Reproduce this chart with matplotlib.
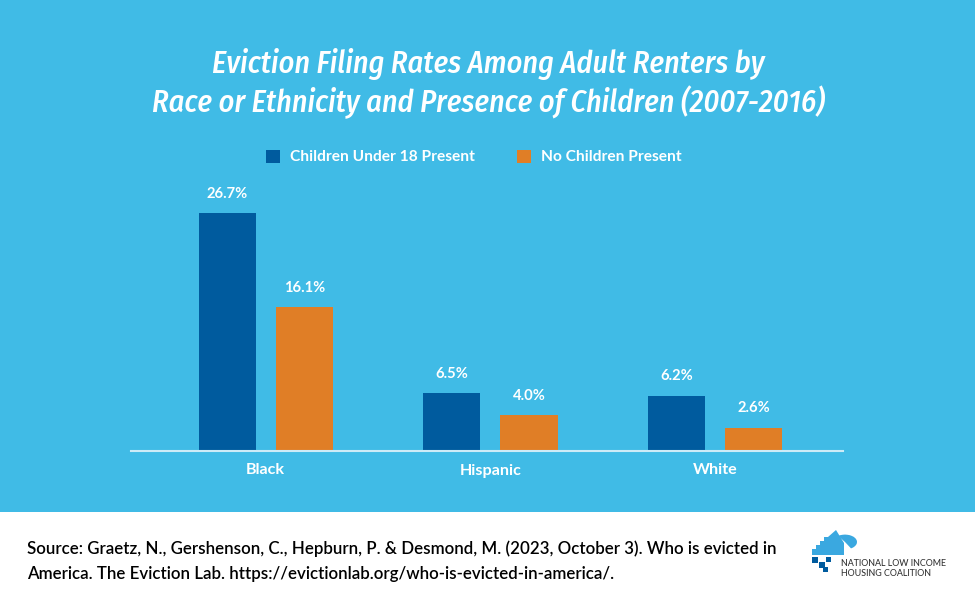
import numpy as np
import matplotlib
matplotlib.use("Agg")
import matplotlib.pyplot as plt
from matplotlib.patches import Rectangle, Polygon, Wedge

# data
groups = ["Black", "Hispanic", "White"]
children = [26.7, 6.5, 6.2]
no_children = [16.1, 4.0, 2.6]
series_names = ["Children Under 18 Present", "No Children Present"]

bg_blue = "#40BBE6"
dark_blue = "#005B9E"
orange = "#E07E26"

W, H = 975, 600


def fx(px):
    return px / W


def fy(py):
    # pixel y measured from top
    return 1 - py / H


plt.rcParams['font.family'] = ['Lato', 'DejaVu Sans']
title_fam = ["Fira Sans Condensed", "Archivo Narrow", "Liberation Sans Narrow", "DejaVu Sans"]

fig = plt.figure(figsize=(9.75, 6), dpi=100, facecolor="white")

# blue panel
fig.patches.append(Rectangle((0, fy(512)), 1, 1 - fy(512), transform=fig.transFigure,
                             facecolor=bg_blue, edgecolor="none", zorder=-5))

fig.text(fx(488), fy(64), "Eviction Filing Rates Among Adult Renters by",
         ha="center", va="center", color="white", fontsize=21.8, style="italic",
         fontweight="medium", family=title_fam)
fig.text(fx(488), fy(102), "Race or Ethnicity and Presence of Children (2007-2016)",
         ha="center", va="center", color="white", fontsize=21.8, style="italic",
         fontweight="medium", family=title_fam)

# chart
ax = fig.add_axes([fx(131), fy(451), fx(843) - fx(131), fy(213) - fy(451)])
ax.set_facecolor("none")
x = np.arange(len(groups))
off = 0.172
bw = 0.254
b1 = ax.bar(x - off, children, bw, color=dark_blue, label=series_names[0], zorder=2)
b2 = ax.bar(x + off, no_children, bw, color=orange, label=series_names[1], zorder=2)

for bars, vals in ((b1, children), (b2, no_children)):
    for rect, v in zip(bars, vals):
        ax.annotate(f"{v:.1f}%", (rect.get_x() + rect.get_width() / 2, v),
                    xytext=(0, 9), textcoords="offset points", ha="center", va="bottom",
                    color="white", fontsize=10.6, fontweight="bold", annotation_clip=False)

ax.set_xlim(-0.6, 2.57)
ax.set_ylim(0, 26.7)
for s in ("top", "right", "left"):
    ax.spines[s].set_visible(False)
ax.spines["bottom"].set_color("#CDEBF7")
ax.spines["bottom"].set_linewidth(1.5)
ax.set_yticks([])
ax.set_xticks(x)
ax.set_xticklabels(groups, color="white", fontsize=11.6, fontweight="bold")
ax.tick_params(axis="x", length=0, pad=9)

fig.legend(handles=[b1, b2], loc="center", bbox_to_anchor=(fx(474), fy(157)), ncol=2,
           frameon=False, handlelength=0.9, handleheight=0.9,
           handletextpad=0.65, columnspacing=2.7, labelcolor="white",
           prop={"weight": "bold", "size": 11.2})

# source
fig.text(fx(27), fy(549), "Source: Graetz, N., Gershenson, C., Hepburn, P. & Desmond, M. (2023, October 3). Who is evicted in",
         ha="left", va="center", color="black", fontsize=12.2, fontweight="semibold")
fig.text(fx(27), fy(574), "America. The Eviction Lab. https://evictionlab.org/who-is-evicted-in-america/.",
         ha="left", va="center", color="black", fontsize=12.2, fontweight="semibold")

# logo (simplified)
logo_blue = "#3AA8E0"
tf = fig.transFigure
roof = [(fx(812), fy(555)), (fx(812), fy(549)), (fx(816), fy(549)), (fx(816), fy(545)),
        (fx(820), fy(545)), (fx(820), fy(541)), (fx(824), fy(541)), (fx(824), fy(537)),
        (fx(828), fy(537)), (fx(836), fy(530)), (fx(844), fy(543)), (fx(844), fy(555))]
fig.patches.append(Polygon(roof, closed=True, transform=tf, facecolor=logo_blue, edgecolor="none"))
fig.patches.append(Wedge((fx(845), fy(542)), fx(12), -60, 125, transform=tf,
                         facecolor=logo_blue, edgecolor="none"))
for (px, py, s) in [(812, 557, 6), (819, 562, 6), (826, 557, 5), (823, 567, 5)]:
    fig.patches.append(Rectangle((fx(px), fy(py + s)), fx(s), fy(py) - fy(py + s), transform=tf,
                                 facecolor=dark_blue, edgecolor="none"))
fig.text(fx(841), fy(564), "NATIONAL LOW INCOME", ha="left", va="center",
         color="#333333", fontsize=6.4, fontweight="medium")
fig.text(fx(841), fy(573), "HOUSING COALITION", ha="left", va="center",
         color="#333333", fontsize=6.4, fontweight="medium")

fig.savefig("out.png", dpi=100, facecolor="white")
